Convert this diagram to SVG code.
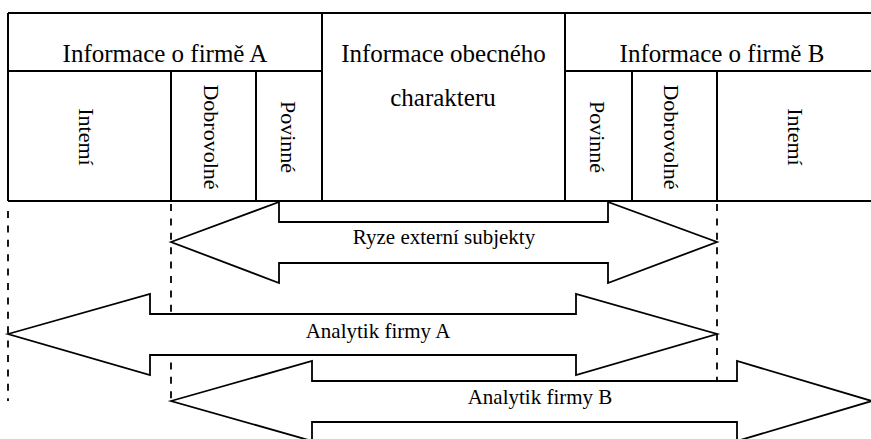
<svg xmlns="http://www.w3.org/2000/svg" width="871" height="439" viewBox="0 0 871 439">
<style>
.ln{stroke:#000;stroke-width:2;fill:none}
.dash{stroke:#000;stroke-width:1.8;fill:none;stroke-dasharray:7 7.4}
.arr{stroke:#000;stroke-width:1.8;fill:#fff;stroke-linejoin:miter}
.t{font-family:'Liberation Serif','DejaVu Serif',serif;fill:#000}
.h{font-size:25px;text-anchor:middle}
.v{font-size:22px;text-anchor:middle}
.l{font-size:21px;text-anchor:middle}
</style>
<rect width="871" height="439" fill="#fff"/>
<g id="table">
<path class="ln" d="M8 13H871M8 71H322M565 71H871M8 201H871M8 13V201M322 13V201M565 13V201M171 71V201M256 71V201M632 71V201M717 71V201"/>
</g>
<g id="firmaA" class="t" font-family="Liberation Serif, serif">
<text class="h" x="165" y="62">Informace o firmě A</text>
<g id="A-interni"><text class="v" transform="translate(79,137) rotate(90)">Intemí</text></g>
<g id="A-dobrovolne"><text class="v" transform="translate(204,137) rotate(90)">Dobrovolné</text></g>
<g id="A-povinne"><text class="v" transform="translate(281,137) rotate(90)">Povinné</text></g>
</g>
<g id="obecne" class="t" font-family="Liberation Serif, serif">
<text class="h" x="443.5" y="62">Informace obecného</text>
<text class="h" x="443" y="106">charakteru</text>
</g>
<g id="firmaB" class="t" font-family="Liberation Serif, serif">
<text class="h" x="722" y="62">Informace o firmě B</text>
<g id="B-povinne"><text class="v" transform="translate(590,137) rotate(90)">Povinné</text></g>
<g id="B-dobrovolne"><text class="v" transform="translate(664,137) rotate(90)">Dobrovolné</text></g>
<g id="B-interni"><text class="v" transform="translate(788,137) rotate(90)">Intemí</text></g>
</g>
<g id="connectors">
<path class="dash" d="M8 211V401"/>
<path class="dash" d="M171 204V401"/>
<path class="dash" d="M717 204V381"/>
<g id="ryze" class="t" font-family="Liberation Serif, serif">
<path class="arr" d="M171 242L279 202V222H608V202L717 242L608 283V263H279V283Z"/>
<text class="l" x="444" y="244">Ryze externí subjekty</text>
</g>
<g id="analytikA" class="t" font-family="Liberation Serif, serif">
<path class="arr" d="M8 334L150 294V314H576V294L717 334L576 375V355H150V375Z"/>
<text class="l" x="378" y="338">Analytik firmy A</text>
</g>
<g id="analytikB" class="t" font-family="Liberation Serif, serif">
<path class="arr" d="M171 401L312 361V381H737V361L872 401L737 441V422H312V441Z"/>
<text class="l" x="540" y="404">Analytik firmy B</text>
</g>
</g>
</svg>
